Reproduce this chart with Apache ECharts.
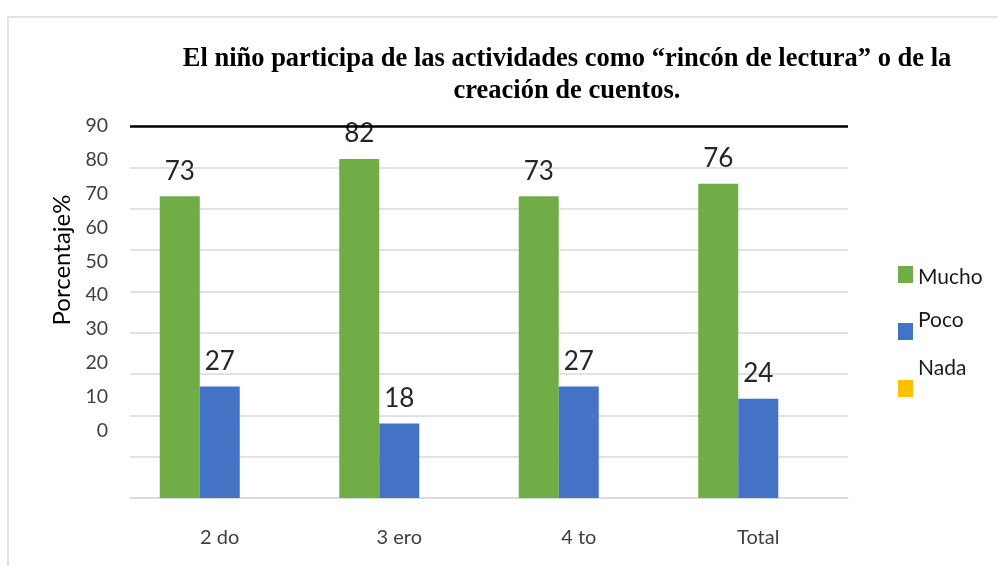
<!DOCTYPE html>
<html>
<head>
<meta charset="utf-8">
<script src="https://cdn.jsdelivr.net/npm/echarts@6/dist/echarts.min.js"></script>
<style>
html,body{margin:0;padding:0;background:#fff;}
#main{width:998px;height:566px;}
</style>
</head>
<body>
<div id="main"></div>
<script>
var categories=['2 do','3 ero','4 to','Total'];
var mucho=[73,82,73,76];
var poco=[27,18,27,24];
var nada=[0,0,0,0];
var yTicks=[0,10,20,30,40,50,60,70,80,90];

var myChart=echarts.init(document.getElementById('main'));
var font='Lato';
var legendRich={
    t:{fontFamily:font,fontSize:21,lineHeight:24,color:'#1a1a1a'},
    s6:{fontSize:1,lineHeight:6},
    s22:{fontSize:1,lineHeight:22},
    s40:{fontSize:1,lineHeight:40}
};
var option={
    animation:false,
    title:{
        text:'El niño participa de las actividades como “rincón de lectura” o de la\ncreación de cuentos.',
        left:562,
        top:38,
        textAlign:'center',
        textStyle:{
            fontFamily:'Liberation Serif',
            fontWeight:'bold',
            fontSize:26.5,
            lineHeight:32,
            color:'#000'
        }
    },
    legend:[
        {
            data:['Mucho'],left:893,top:257,
            itemWidth:15,itemHeight:17,icon:'rect',
            formatter:'{s6| }\n{t|{name}}',
            textStyle:{rich:legendRich}
        },
        {
            data:['Poco'],left:893,top:305,
            itemWidth:15,itemHeight:17,icon:'rect',
            formatter:'{t|{name}}\n{s22| }',
            textStyle:{rich:legendRich}
        },
        {
            data:['Nada'],left:893,top:353,
            itemWidth:15,itemHeight:17,icon:'rect',
            formatter:'{t|{name}}\n{s40| }',
            textStyle:{rich:legendRich}
        }
    ],
    graphic:[
        {
            type:'rect',z:-10,
            shape:{x:8,y:17,width:1000,height:600},
            style:{fill:'#fff',stroke:'#d9d9d9',lineWidth:1.5}
        },
        {
            type:'text',x:62,y:260,rotation:Math.PI/2,
            style:{text:'Porcentaje%',align:'center',verticalAlign:'middle',
                fontFamily:font,fontSize:24,fill:'#000'}
        }
    ],
    grid:{left:130,right:150,top:126,bottom:68},
    xAxis:{
        type:'category',
        data:categories,
        axisLine:{lineStyle:{color:'#d9d9d9',width:1.5}},
        axisTick:{length:8,lineStyle:{color:'#d9d9d9',width:1.5}},
        axisLabel:{margin:30,fontFamily:font,fontSize:20,color:'#404040'}
    },
    yAxis:[
        {
            type:'value',min:0,max:90,interval:10,
            axisLabel:{show:false},
            axisLine:{show:false},
            axisTick:{show:false},
            splitLine:{lineStyle:{color:'#d9d9d9',width:1.5}}
        },
        {
            type:'value',position:'left',min:-20,max:90,interval:10,
            axisLine:{show:false},
            axisTick:{show:false},
            splitLine:{show:false},
            axisLabel:{
                margin:22,fontFamily:font,fontSize:19.5,color:'#404040',
                formatter:function(v){return yTicks.indexOf(v)>=0?String(v):'';}
            }
        }
    ],
    series:[
        {
            name:'Mucho',type:'bar',barWidth:40,barGap:0,
            itemStyle:{color:'#70ad47'},
            label:{show:true,position:'top',distance:12,fontFamily:font,fontSize:26,color:'#262626'},
            markLine:{
                silent:true,symbol:'none',
                label:{show:false},
                lineStyle:{color:'#000',width:2.5,type:'solid'},
                data:[{yAxis:90}]
            },
            data:mucho
        },
        {
            name:'Poco',type:'bar',barWidth:40,barGap:0,
            itemStyle:{color:'#4472c4'},
            label:{show:true,position:'top',distance:12,fontFamily:font,fontSize:26,color:'#262626'},
            data:poco
        },
        {
            name:'Nada',type:'bar',barWidth:40,barGap:0,
            itemStyle:{color:'#ffc000'},
            label:{show:false},
            data:nada
        }
    ]
};
myChart.setOption(option);
</script>
</body>
</html>
